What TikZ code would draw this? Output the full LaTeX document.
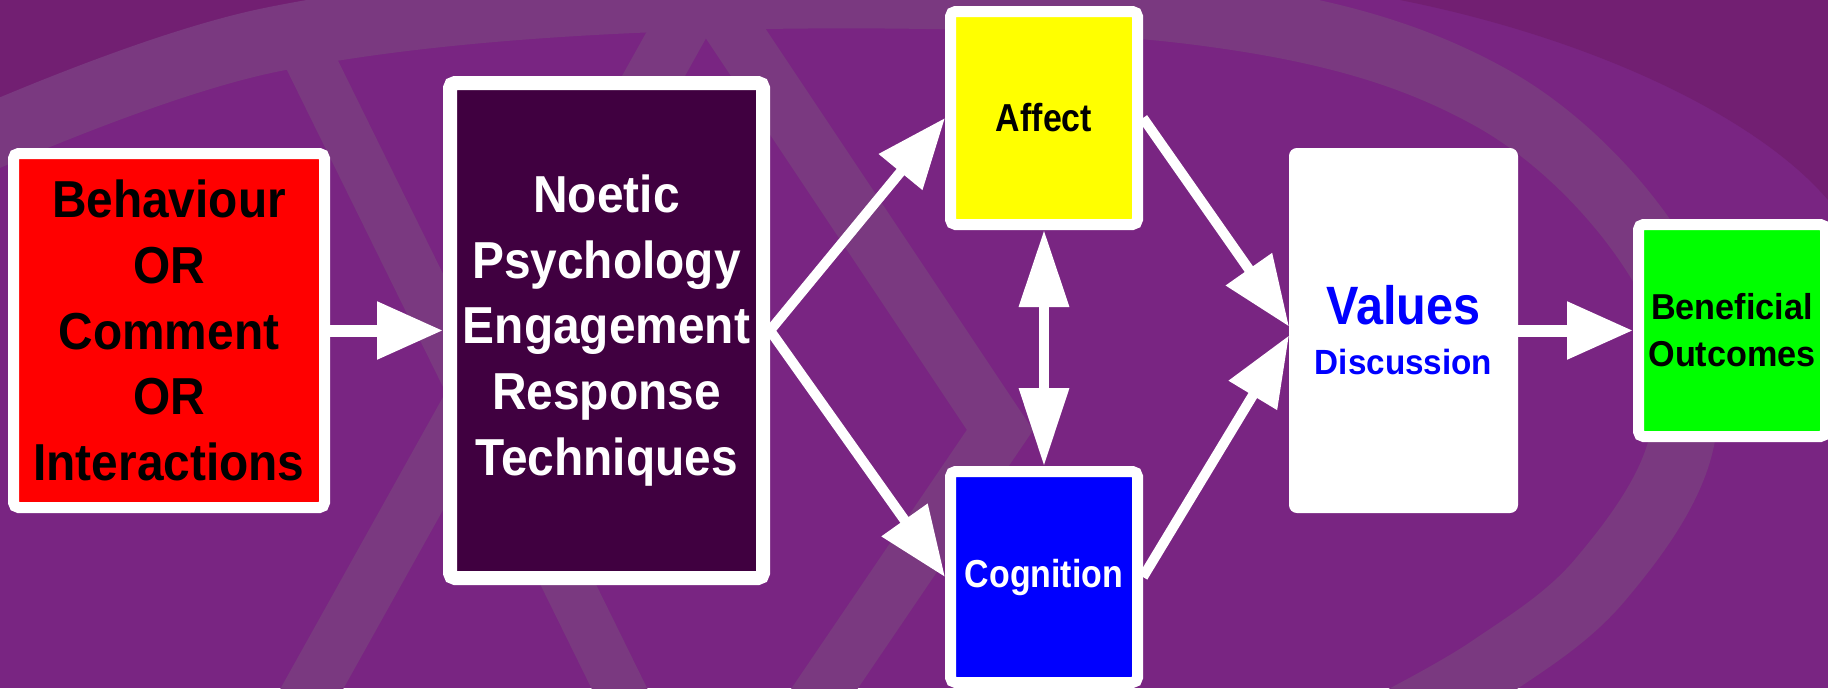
\documentclass[tikz,border=0pt]{standalone}
\usepackage{fontspec}
\setmainfont{Liberation Sans}
\newfontfamily\fa[FakeStretch=0.92]{Liberation Sans}
\newfontfamily\fb[FakeStretch=0.87]{Liberation Sans}
\newfontfamily\fc[FakeStretch=0.90]{Liberation Sans}
\newfontfamily\fd[FakeStretch=0.95]{Liberation Sans}
\usetikzlibrary{arrows.meta,calc}
\definecolor{bgpurple}{RGB}{121,37,130}
\definecolor{bgdark}{RGB}{114,31,114}
\definecolor{band}{RGB}{122,57,128}
\definecolor{noeticfill}{RGB}{64,0,64}
\definecolor{vblue}{RGB}{0,0,255}
\definecolor{ygreen}{RGB}{0,255,0}
\definecolor{yyellow}{RGB}{255,255,0}
\begin{document}
\begin{tikzpicture}[x=1pt,y=-1pt,
  box/.style={draw=white, line width=11pt, rounded corners=5pt, inner sep=0pt, align=center},
  bigtext/.style={font={\fa\bfseries\fontsize{52}{65.75}\selectfont}},
  smalltext/.style={font={\fb\bfseries\fontsize{39}{47}\selectfont}},
  flow/.style={white, line width=12pt, -{Triangle[length=66pt,width=55pt]}},
  diag/.style={white, line width=10pt, -{Triangle[length=70pt,width=54pt]}},
  twoway/.style={white, line width=10pt, {Triangle[length=77pt,width=48pt]}-{Triangle[length=78pt,width=48pt]}},
  wm/.style={band, line width=55pt}
]
\useasboundingbox (0,0) rectangle (1828,688);
\begin{scope}
\clip (0,0) rectangle (1828,688);
\fill[bgpurple] (0,0) rectangle (1828,688);
% darker corners outside the ring
\fill[bgdark] (0,0) -- (0,110) .. controls (150,50) and (300,15) .. (450,0) -- cycle;
\fill[bgdark] (1400,0) .. controls (1600,40) and (1760,120) .. (1828,200) -- (1828,0) -- cycle;
% faint watermark: large ring
\draw[wm, line width=65pt] plot[smooth, tension=0.6] coordinates
  {(-40,150) (270,40) (700,-2) (1194,12) (1490,97) (1665,272) (1682,440) (1600,580) (1490,668) (1380,730)};
% faint watermark: crossing bands
\draw[wm] (707,-20) -- (300,710);
\draw[wm, line join=miter] (700,-20) -- (1000,430) -- (810,710);
\draw[wm, line width=50pt] (300,40) -- (630,710);
\end{scope}

\node[box, fill=red, minimum width=311pt, minimum height=354pt, bigtext] (beh) at (169,330.5)
  {Behaviour\\OR\\Comment\\OR\\Interactions};
\node[box, line width=14pt, fill=noeticfill, text=white, minimum width=313pt, minimum height=495pt, bigtext] (noe) at (606.5,330.5)
  {Noetic\\Psychology\\Engagement\\Response\\Techniques};
\node[box, fill=yyellow, minimum width=187pt, minimum height=213pt, smalltext] (aff) at (1044,118) {Affect};
\node[box, fill=vblue, text=white, minimum width=187pt, minimum height=211pt, smalltext] (cog) at (1044,577) {Cognition};
\node[draw=white, line width=2pt, rounded corners=7pt, fill=white, text=vblue, inner sep=0pt, align=center,
  minimum width=227pt, minimum height=363pt, font={\fd\bfseries\fontsize{35}{50}\selectfont}] (val) at (1403.5,330.5)
  {{\fc\bfseries\fontsize{54}{50}\selectfont Values}\\Discussion};
\node[box, fill=ygreen, minimum width=187pt, minimum height=212pt,
  font={\fd\bfseries\fontsize{36}{47}\selectfont}] (ben) at (1732,330.5) {Beneficial\\Outcomes};

\draw[flow] (beh.east) -- (noe.west);
\draw[diag] (noe.east) -- (aff.west);
\draw[diag] (noe.east) -- (cog.west);
\draw[twoway] (aff.south) -- (cog.north);
\draw[diag] (aff.east) -- ($(val.west)+(0,-4)$);
\draw[diag] (cog.east) -- ($(val.west)+(0,5)$);
\draw[flow] (val.east) -- (ben.west);
\end{tikzpicture}
\end{document}
